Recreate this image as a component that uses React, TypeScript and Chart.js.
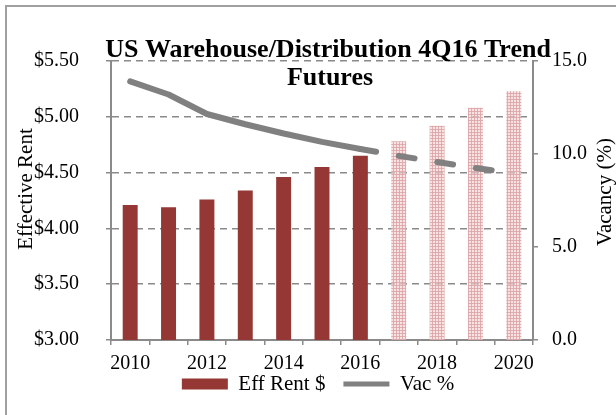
import { useEffect, useRef } from 'react';
import { Chart, registerables } from 'chart.js';

Chart.register(...registerables);

const years = ['2010', '2011', '2012', '2013', '2014', '2015', '2016', '2017', '2018', '2019', '2020'];
const effRent = [4.21, 4.19, 4.26, 4.34, 4.46, 4.55, 4.65, 4.78, 4.92, 5.08, 5.23];
const vacancy = [13.9, 13.2, 12.15, 11.6, 11.1, 10.65, 10.27, 9.9, 9.57, 9.25, 8.95];
const forecastStart = 7; // first forecast year index (2017)
const titleLines = ['US Warehouse/Distribution 4Q16 Trend', 'Futures'];
const leftTitle = 'Effective Rent';
const rightTitle = 'Vacancy (%)';
const legendLabels = ['Eff Rent $', 'Vac %'];

const SERIF = '"Liberation Serif", "Times New Roman", serif';
const RED = '#953735';
const GRAY = '#808080';
const AXIS = '#8a8a8a';
const LEGEND_SHIFT = 16.5;

export default function App() {
  const ref = useRef<HTMLCanvasElement>(null);

  useEffect(() => {
    const canvas = ref.current!;
    const tile = document.createElement('canvas');
    tile.width = 3;
    tile.height = 3;
    const t = tile.getContext('2d')!;
    t.fillStyle = 'rgba(242,212,212,0.65)';
    t.fillRect(0, 0, 3, 3);
    t.fillStyle = 'rgba(220,165,165,0.85)';
    t.fillRect(0, 0, 3, 1);
    t.fillRect(0, 0, 1, 3);
    const pattern = canvas.getContext('2d')!.createPattern(tile, 'repeat')!;

    const barColors = effRent.map((_, i) => (i >= forecastStart ? pattern : RED));

    const textPlugin = {
      id: 'texts',
      afterLayout(chart: any) {
        const lg = chart.legend;
        if (lg) {
          lg.top -= LEGEND_SHIFT;
          lg.bottom -= LEGEND_SHIFT;
        }
      },
      afterDraw(chart: any) {
        const ctx = chart.ctx as CanvasRenderingContext2D;
        ctx.save();
        ctx.fillStyle = '#000';
        ctx.textAlign = 'center';
        ctx.textBaseline = 'alphabetic';
        ctx.font = `bold 26px ${SERIF}`;
        ctx.fillText(titleLines[0], 328, 57);
        ctx.fillText(titleLines[1], 330, 85);
        ctx.font = `21px ${SERIF}`;
        ctx.save();
        ctx.translate(32, 189);
        ctx.rotate(-Math.PI / 2);
        ctx.fillText(leftTitle, 0, 0);
        ctx.restore();
        ctx.save();
        ctx.translate(611, 192);
        ctx.rotate(-Math.PI / 2);
        ctx.fillText(rightTitle, 0, 0);
        ctx.restore();
        ctx.restore();
      },
    };

    const chart = new Chart(canvas, {
      type: 'bar',
      data: {
        labels: years,
        datasets: [
          {
            type: 'line',
            label: legendLabels[1],
            data: vacancy,
            yAxisID: 'y1',
            borderColor: GRAY,
            backgroundColor: GRAY,
            borderWidth: 6,
            borderCapStyle: 'round',
            borderJoinStyle: 'round',
            pointRadius: 0,
            tension: 0,
            order: 0,
            segment: {
              borderDash: (c: any) => (c.p0DataIndex >= forecastStart - 1 ? [16, 23] : undefined),
            },
          } as any,
          {
            type: 'bar',
            label: legendLabels[0],
            data: effRent,
            yAxisID: 'y',
            backgroundColor: barColors as any,
            borderWidth: 0,
            categoryPercentage: 1,
            barPercentage: 0.39,
            order: 1,
          },
        ],
      },
      options: {
        responsive: false,
        animation: false,
        layout: { padding: { top: 61, left: 20, right: 0, bottom: -6 } },
        plugins: {
          title: { display: false },
          tooltip: { enabled: false },
          legend: {
            position: 'bottom',
            labels: {
              usePointStyle: true,
              pointStyleWidth: 46,
              boxHeight: 11,
              padding: 18,
              color: '#000',
              font: { family: SERIF, size: 21 },
              generateLabels: () => [
                {
                  text: legendLabels[0],
                  fillStyle: RED,
                  strokeStyle: RED,
                  lineWidth: 0,
                  pointStyle: 'rect',
                  datasetIndex: 1,
                  hidden: false,
                  fontColor: '#000',
                } as any,
                {
                  text: legendLabels[1],
                  fillStyle: GRAY,
                  strokeStyle: GRAY,
                  lineWidth: 5,
                  pointStyle: 'line',
                  datasetIndex: 0,
                  hidden: false,
                  fontColor: '#000',
                } as any,
              ],
            },
          },
        },
        scales: {
          x: {
            type: 'category',
            offset: true,
            afterFit: (s: any) => {
              s.height = 32;
            },
            grid: {
              offset: true,
              drawOnChartArea: false,
              drawTicks: true,
              tickLength: 5,
              color: AXIS,
              lineWidth: 1.5,
            },
            border: { color: AXIS, width: 2 },
            ticks: {
              autoSkip: false,
              maxRotation: 0,
              padding: 7,
              color: '#000',
              font: { family: SERIF, size: 20 },
              callback: (_v: any, i: number) => (i % 2 === 0 ? years[i] : ''),
            },
          },
          y: {
            position: 'left',
            min: 3,
            max: 5.5,
            afterFit: (s: any) => {
              s.width = 91;
            },
            grid: {
              color: AXIS,
              lineWidth: 1.5,
              tickBorderDash: [],
              tickLength: 5,
              tickColor: AXIS,
            } as any,
            border: { color: AXIS, width: 2, dash: [7, 5] } as any,
            ticks: {
              stepSize: 0.5,
              padding: 27,
              color: '#000',
              font: { family: SERIF, size: 20 },
              callback: (v: any) => '$' + Number(v).toFixed(2),
            },
          },
          y1: {
            position: 'right',
            min: 0,
            max: 15,
            afterFit: (s: any) => {
              s.width = 83;
            },
            grid: {
              drawOnChartArea: false,
              tickLength: 5,
              color: AXIS,
              lineWidth: 1.5,
            },
            border: { color: AXIS, width: 2 },
            ticks: {
              stepSize: 5,
              padding: 14,
              color: '#000',
              font: { family: SERIF, size: 20 },
              callback: (v: any) => Number(v).toFixed(1),
            },
          },
        },
      },
      plugins: [textPlugin],
    });

    return () => chart.destroy();
  }, []);

  return (
    <div style={{ position: 'fixed', left: 0, top: 0, width: 616, height: 415, overflow: 'hidden', background: '#fff' }}>
      <div
        style={{
          position: 'absolute',
          left: 5,
          top: 5,
          width: 700,
          height: 500,
          border: '2px solid #a0a0a0',
        }}
      />
      <canvas ref={ref} width={616} height={415} style={{ position: 'absolute', left: 0, top: 0, width: 616, height: 415 }} />
    </div>
  );
}
